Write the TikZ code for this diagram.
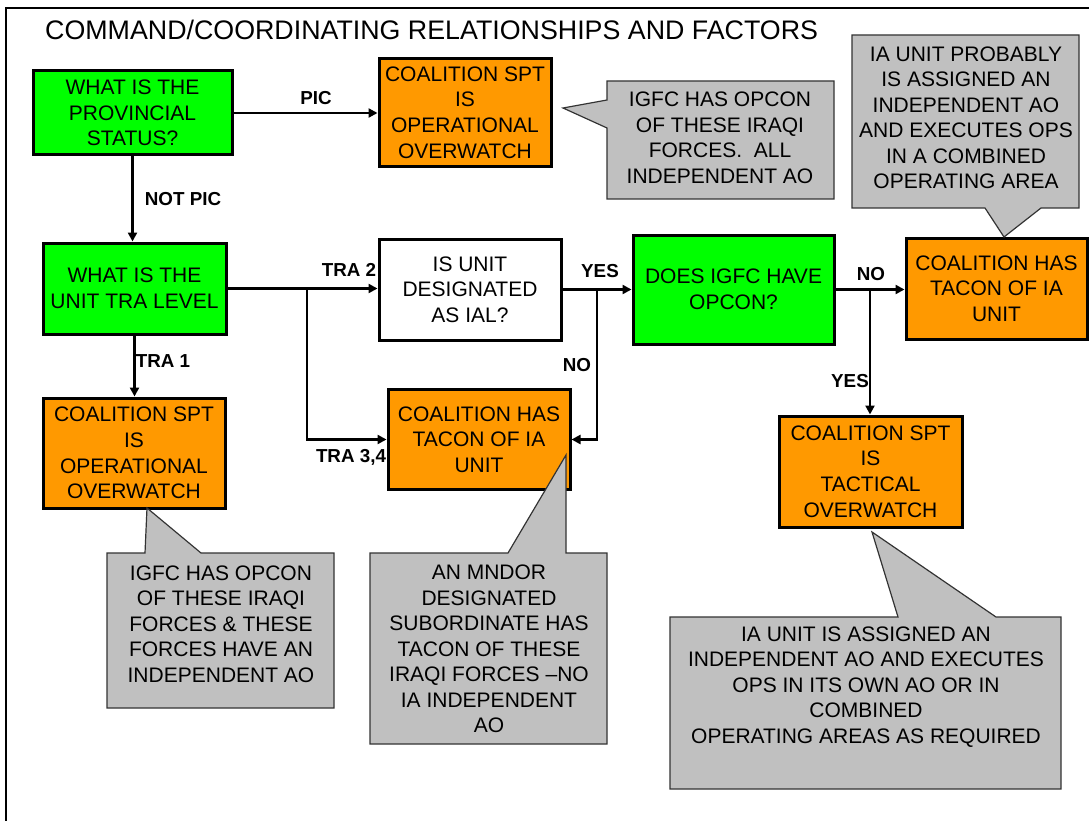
\documentclass[tikz,border=0pt]{standalone}
\usepackage{fontspec}
\setmainfont{Liberation Sans}
\usetikzlibrary{arrows.meta}
\definecolor{boxgreen}{HTML}{00FF00}
\definecolor{boxorange}{HTML}{FF9900}
\definecolor{callgray}{HTML}{C0C0C0}
\definecolor{callline}{HTML}{333333}
\begin{document}
\begin{tikzpicture}[x=1pt,y=-1pt,
  box/.style={draw=black,line width=3pt,inner sep=0pt,align=center,font=\fontsize{21}{25.7}\selectfont},
  greenbox/.style={box,fill=boxgreen},
  orangebox/.style={box,fill=boxorange},
  whitebox/.style={box,fill=white},
  conn/.style={line width=2.4pt,-{Triangle[length=9pt,width=9pt]}},
  lab/.style={font=\fontsize{18.8}{20}\selectfont\bfseries,inner sep=0pt},
  callout/.style={fill=callgray,draw=callline,line width=1.2pt,line join=miter},
  calltext/.style={align=center,inner sep=0pt,font=\fontsize{21}{25.5}\selectfont}
]
\useasboundingbox (0,0) rectangle (1089,821);
% frame
\draw[line width=2.5pt] (1095,8) -- (6,8) -- (6,830);
% title
\node[anchor=base west,inner sep=0pt,font=\fontsize{26.8}{30}\selectfont] (title) at (45,40) {COMMAND/COORDINATING RELATIONSHIPS AND FACTORS};

% boxes
\node[greenbox,minimum width=199pt,minimum height=84pt] (prov) at (132.5,113) {WHAT IS THE\\PROVINCIAL\\STATUS?};
\node[orangebox,minimum width=172pt,minimum height=108pt] (opow1) at (465,112.5) {COALITION SPT\\IS\\OPERATIONAL\\OVERWATCH};
\node[greenbox,minimum width=183pt,minimum height=91pt] (tra) at (134.5,288.5) {WHAT IS THE\\UNIT TRA LEVEL};
\node[whitebox,minimum width=182pt,minimum height=101pt] (ial) at (470,289.5) {IS UNIT\\DESIGNATED\\AS IAL?};
\node[greenbox,minimum width=201pt,minimum height=109pt] (igfc) at (733.5,289.5) {DOES IGFC HAVE\\OPCON?};
\node[orangebox,minimum width=181pt,minimum height=101pt] (taconr) at (996.5,288.5) {COALITION HAS\\TACON OF IA\\UNIT};
\node[orangebox,minimum width=182pt,minimum height=110pt] (opow2) at (134,453) {COALITION SPT\\IS\\OPERATIONAL\\OVERWATCH};
\node[orangebox,minimum width=182pt,minimum height=100pt] (taconm) at (479,439.5) {COALITION HAS\\TACON OF IA\\UNIT};
\node[orangebox,minimum width=183pt,minimum height=111pt] (tactow) at (870.5,471.5) {COALITION SPT\\IS\\TACTICAL\\OVERWATCH};

% junctions
\coordinate (j1) at (307,0 |- tra.east);
\coordinate (j2) at (597,0 |- ial.east);
\coordinate (j3) at (870,0 |- igfc.east);

% connectors
\draw[conn] (prov.east) -- (opow1.west |- prov.east);
\draw[conn] (prov.south) -- (prov.south |- tra.north);
\draw[conn] (tra.east) -- (ial.west |- tra.east);
\draw[conn] (j1) |- (taconm.west);
\draw[conn] (tra.south) -- (tra.south |- opow2.north);
\draw[conn] (ial.east) -- (igfc.west |- ial.east);
\draw[conn] (j2) |- (taconm.east);
\draw[conn] (igfc.east) -- (taconr.west |- igfc.east);
\draw[conn] (j3) -- (j3 |- tactow.north);

% connector labels
\node[lab] (lpic) at (316,98) {PIC};
\node[lab] (lnotpic) at (183,199) {NOT PIC};
\node[lab] (ltra2) at (349,270) {TRA 2};
\node[lab] (ltra34) at (351,457) {TRA 3,4};
\node[lab] (ltra1) at (163,361) {TRA 1};
\node[lab] (lyes1) at (600,271) {YES};
\node[lab] (lno1) at (577,365) {NO};
\node[lab] (lno2) at (871,274) {NO};
\node[lab] (lyes2) at (850,381) {YES};

% callouts
\draw[callout] (607,81) -- (834,81) -- (834,199) -- (607,199) -- (607,128) -- (563,108) -- (607,100) -- cycle;
\node[calltext] (c1) at (720,138) {IGFC HAS OPCON\\OF THESE IRAQI\\FORCES.~ ALL\\INDEPENDENT AO};

\draw[callout] (852,35) -- (1079,35) -- (1079,208) -- (1041,208) -- (1004,237) -- (985,208) -- (852,208) -- cycle;
\node[calltext] (c2) at (966,118) {IA UNIT PROBABLY\\IS ASSIGNED AN\\INDEPENDENT AO\\AND EXECUTES OPS\\IN A COMBINED\\OPERATING AREA};

\draw[callout] (107,553) -- (145,553) -- (147,508) -- (201,553) -- (334,553) -- (334,708) -- (107,708) -- cycle;
\node[calltext] (c3) at (221,624) {IGFC HAS OPCON\\OF THESE IRAQI\\FORCES \& THESE\\FORCES HAVE AN\\INDEPENDENT AO};

\draw[callout] (370,553) -- (508,553) -- (566,455) -- (566,553) -- (607,553) -- (607,744) -- (370,744) -- cycle;
\node[calltext] (c4) at (489,649) {AN MNDOR\\DESIGNATED\\SUBORDINATE HAS\\TACON OF THESE\\IRAQI FORCES –NO\\IA INDEPENDENT\\AO};

\draw[callout] (670,617) -- (898,617) -- (872,532) -- (996,617) -- (1061,617) -- (1061,789) -- (670,789) -- cycle;
\node[calltext] (c5) at (866,687) {IA UNIT IS ASSIGNED AN\\INDEPENDENT AO AND EXECUTES\\OPS IN ITS OWN AO OR IN\\COMBINED\\OPERATING AREAS AS REQUIRED};
\end{tikzpicture}
\end{document}
